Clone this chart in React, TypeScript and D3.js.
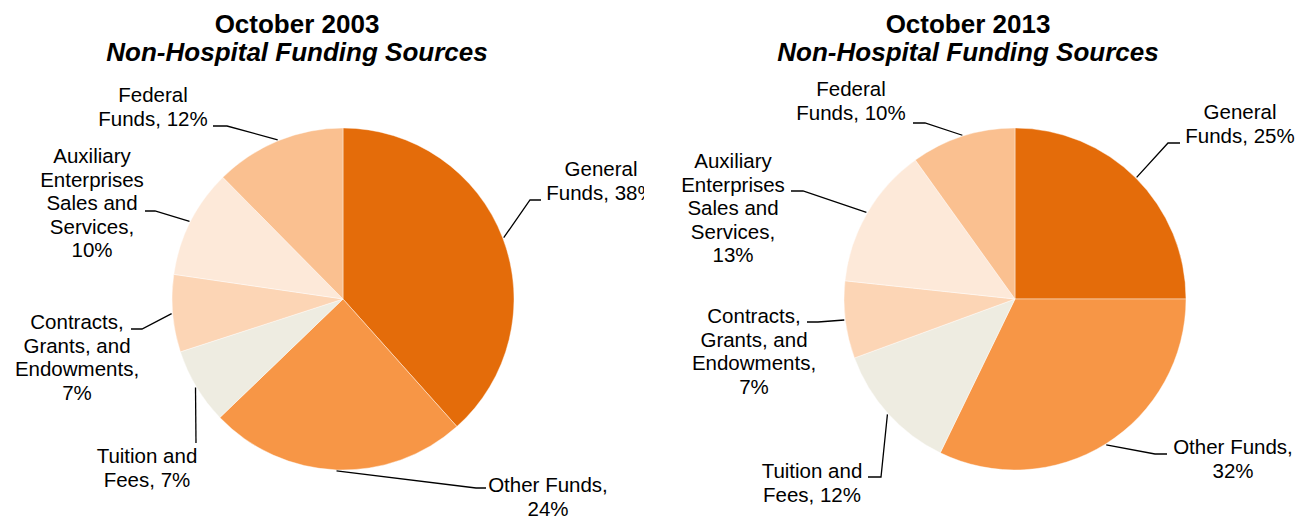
import React, { useEffect, useRef } from "react";
import * as d3 from "d3";

// slice order: clockwise from 12 o'clock
const categories = ["General Funds", "Other Funds", "Tuition and Fees", "Contracts, Grants, and Endowments", "Auxiliary Enterprises Sales and Services", "Federal Funds"];
const values2003 = [38.4, 24.4, 7.2, 7.3, 10.3, 12.4];
const values2013 = [25.0, 32.2, 12.2, 7.3, 13.4, 9.9];
const titles = ["October 2003", "October 2013"];
const subtitle = "Non-Hospital Funding Sources";

// label text lines (the % part is appended from the value)
const labelLines = [
  [["General", "Funds, "], ["Other Funds,", ""], ["Tuition and", "Fees, "], ["Contracts,", "Grants, and", "Endowments,", ""], ["Auxiliary", "Enterprises", "Sales and", "Services,", ""], ["Federal", "Funds, "]],
  [["General", "Funds, "], ["Other Funds,", ""], ["Tuition and", "Fees, "], ["Contracts,", "Grants, and", "Endowments,", ""], ["Auxiliary", "Enterprises", "Sales and", "Services,", ""], ["Federal", "Funds, "]],
];

const colors = ["#E46C0A", "#F79646", "#EEECE1", "#FCD5B5", "#FDE9D9", "#FAC090"];

// manual label layout, relative to page: text center x, first baseline y, elbow, end of leader
const layout = [
  {
    cx: 343, cy: 299, tx: 297, clip: 644,
    labels: [
      { x: 601, y: 176, elbow: [530, 200], end: [541, 200] },
      { x: 548, y: 492, elbow: [476, 488], end: [486, 488] },
      { x: 147, y: 463, elbow: [196, 443], end: [196, 443] },
      { x: 77, y: 329, elbow: [142, 329], end: [131, 329] },
      { x: 92, y: 163, elbow: [155, 211], end: [145, 211] },
      { x: 153, y: 102, elbow: [227, 126], end: [213, 126] },
    ],
  },
  {
    cx: 1015, cy: 299, tx: 968, clip: 1299,
    labels: [
      { x: 1240, y: 119, elbow: [1168, 143], end: [1180, 143] },
      { x: 1233, y: 454, elbow: [1155, 454], end: [1167, 454] },
      { x: 812, y: 478, elbow: [881, 477], end: [868, 477] },
      { x: 754, y: 323, elbow: [818, 322], end: [807, 322] },
      { x: 733, y: 168, elbow: [803, 191], end: [791, 191] },
      { x: 851, y: 96, elbow: [925, 123], end: [913, 123] },
    ],
  },
];

const W = 1299;
const H = 520;
const R = 171;

export default function App() {
  const ref = useRef<SVGSVGElement | null>(null);

  useEffect(() => {
    document.body.style.margin = "0";
    const svg = d3.select(ref.current);
    svg.selectAll("*").remove();
    const font = "'Liberation Sans', Arial, sans-serif";

    const pie = d3.pie<number>().sort(null).value((d) => d);
    const arc = d3.arc<d3.PieArcDatum<number>>().innerRadius(0).outerRadius(R);

    [values2003, values2013].forEach((vals, k) => {
      const L = layout[k];
      const clipId = "clip" + k;
      svg.append("clipPath").attr("id", clipId)
        .append("rect").attr("x", k === 0 ? 0 : 650).attr("y", 0)
        .attr("width", k === 0 ? L.clip : W - 650).attr("height", H);

      const g = svg.append("g").attr("clip-path", `url(#${clipId})`);

      const arcs = pie(vals);
      g.append("g")
        .attr("transform", `translate(${L.cx},${L.cy})`)
        .selectAll("path")
        .data(arcs)
        .enter()
        .append("path")
        .attr("d", arc)
        .attr("fill", (d, i) => colors[i])
        .attr("stroke", "#ffffff")
        .attr("stroke-width", 0.6)
        .attr("stroke-opacity", 0.7);

      // leader lines
      arcs.forEach((d, i) => {
        const a = (d.startAngle + d.endAngle) / 2;
        const sx = L.cx + Math.sin(a) * (R + 1);
        const sy = L.cy - Math.cos(a) * (R + 1);
        const lab = L.labels[i];
        const line = d3.line();
        g.append("path")
          .attr("d", line([[sx, sy], lab.elbow as [number, number], lab.end as [number, number]]))
          .attr("fill", "none")
          .attr("stroke", "#000")
          .attr("stroke-width", 1.3);
      });

      // labels
      arcs.forEach((d, i) => {
        const lab = L.labels[i];
        const lines = labelLines[k][i].slice();
        lines[lines.length - 1] = lines[lines.length - 1] + Math.round(vals[i]) + "%";
        const t = g.append("text")
          .attr("x", lab.x)
          .attr("y", lab.y)
          .attr("text-anchor", "middle")
          .attr("font-family", font)
          .attr("font-size", 20.5)
          .attr("fill", "#000");
        lines.forEach((s, j) => {
          t.append("tspan").attr("x", lab.x).attr("y", lab.y + j * 23.5).text(s);
        });
      });

      g.append("text")
        .attr("x", L.tx).attr("y", 33)
        .attr("text-anchor", "middle")
        .attr("font-family", font)
        .attr("font-weight", "bold")
        .attr("font-size", 26)
        .text(titles[k]);
      g.append("text")
        .attr("x", L.tx).attr("y", 61)
        .attr("text-anchor", "middle")
        .attr("font-family", font)
        .attr("font-weight", "bold")
        .attr("font-style", "italic")
        .attr("font-size", 26)
        .text(subtitle);
    });
  }, []);

  return (
    <svg ref={ref} width={W} height={H} style={{ display: "block", background: "#fff" }} />
  );
}
